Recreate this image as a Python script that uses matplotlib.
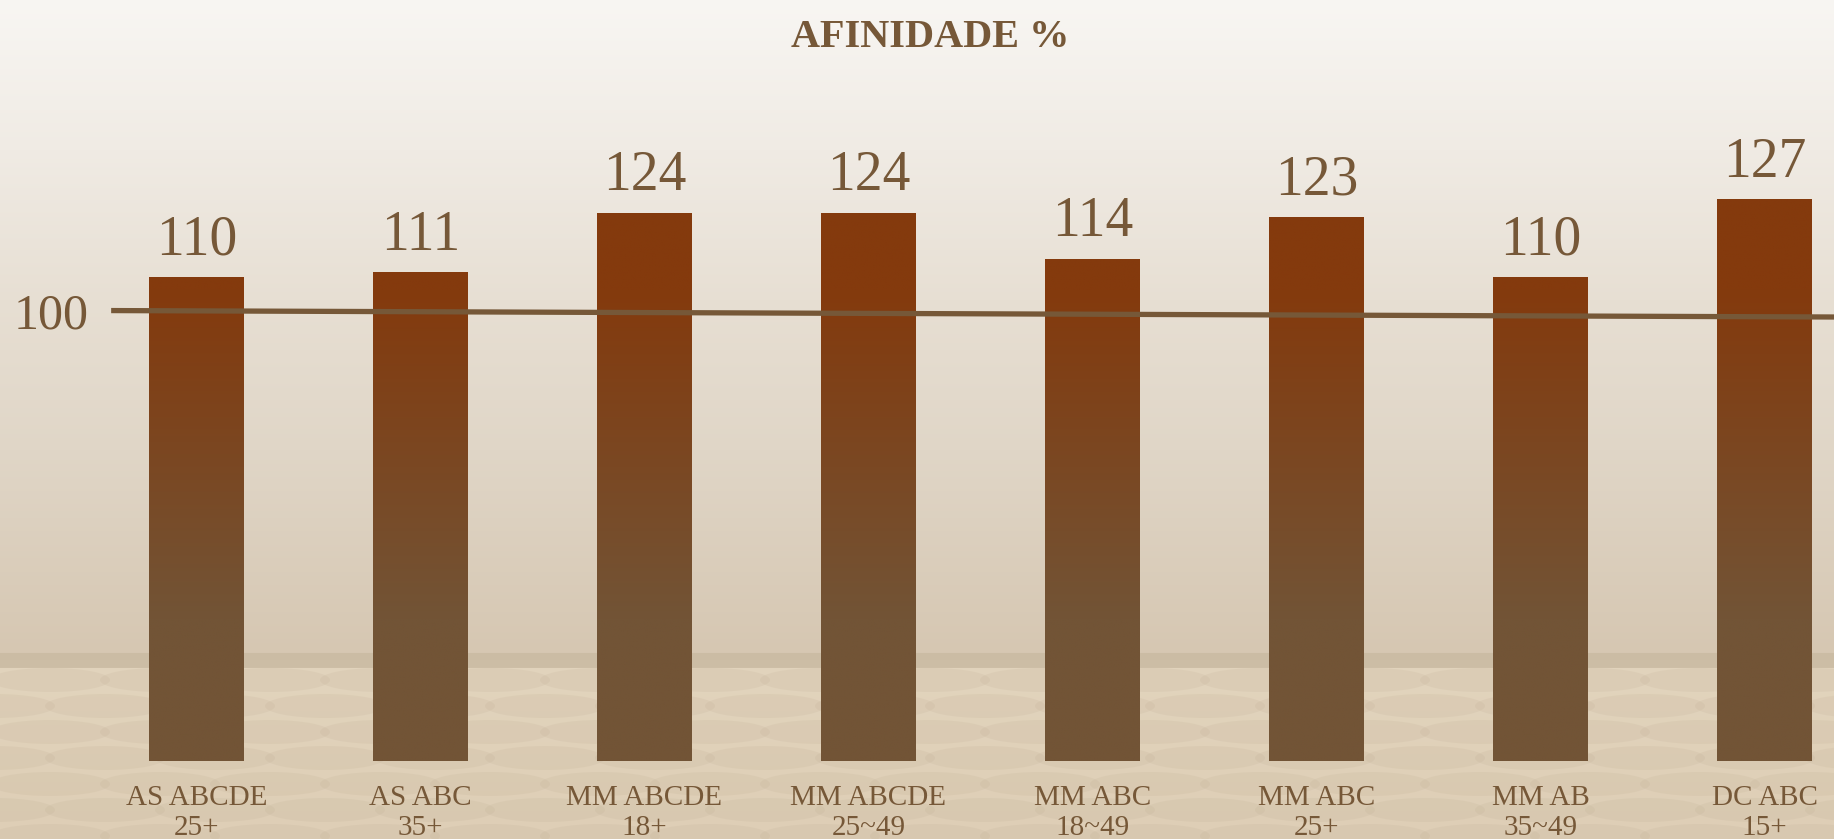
import numpy as np
import matplotlib.pyplot as plt
from matplotlib.patches import Ellipse


# Chart data
categories = ["AS ABCDE\n25+", "AS ABC\n35+", "MM ABCDE\n18+", "MM ABCDE\n25~49",
              "MM ABC\n18~49", "MM ABC\n25+", "MM AB\n35~49", "DC ABC\n15+"]
afinidade = [110, 111, 124, 124, 114, 123, 110, 127]
# reference line (drawn slightly tilted in the original)
ref_label = "100"
ref_values = [102.7, 101.3]

title = "AFINIDADE %"

# colours
text_color = "#765838"
line_color = "#765838"
bar_top = np.array([132, 58, 13]) / 255
bar_bottom = np.array([114, 84, 54]) / 255

plt.rcParams['font.family'] = ['Liberation Serif', 'DejaVu Serif']

W, H = 1834, 839
fig = plt.figure(figsize=(W / 100, H / 100), dpi=100)

# Background: vertical gradient wall + patterned floor
bg = fig.add_axes([0, 0, 1, 1], zorder=-5)
bg.set_xlim(0, W)
bg.set_ylim(H, 0)
bg.axis("off")
rows = np.arange(H)
stops_y = [0, 150, 300, 450, 652, 653, 667, 668, H]
stops_c = np.array([[248, 246, 243], [240, 235, 228], [231, 223, 211], [224, 214, 199],
                    [214, 199, 178], [203, 188, 164], [205, 190, 166], [226, 212, 189],
                    [222, 206, 182]]) / 255
grad = np.stack([np.interp(rows, stops_y, stops_c[:, k]) for k in range(3)], axis=-1)
bg.imshow(grad[:, None, :], extent=(0, W, H, 0), aspect="auto", interpolation="bilinear")
for r, yy in enumerate(range(680, H + 30, 26)):
    shift = 0 if r % 2 == 0 else 55
    for xx in range(-60 + shift, W + 120, 110):
        bg.add_patch(Ellipse((xx, yy), 120, 24, facecolor=(0.72, 0.65, 0.55),
                             edgecolor="none", alpha=0.14))

# Main axes
ax = fig.add_axes([0, 78 / H, 1, 761 / H])
ax.patch.set_alpha(0)
x = np.arange(len(categories))
ax.set_xlim(-196.5 / 224, (W - 196.5) / 224)
ax.set_ylim(4.8, 170.2)

bars = ax.bar(x, afinidade, width=0.42, color="none", edgecolor="none", zorder=2)

# gradient fill for the bars (rust at top, brown at bottom)
vals = np.linspace(4.8, 170.2, 400)
t = np.clip((vals - 35.5) / (107 - 35.5), 0, 1)
bar_grad = (bar_bottom[None, :] * (1 - t[:, None]) + bar_top[None, :] * t[:, None])
for b in bars:
    im = ax.imshow(bar_grad[:, None, :], extent=(b.get_x(), b.get_x() + b.get_width(), 4.8, 170.2),
                   origin="lower", aspect="auto", zorder=2, interpolation="bilinear")
    im.set_clip_path(b)

# value labels
for xi, v in zip(x, afinidade):
    ax.annotate(str(v), (xi, v), xytext=(0, 16), textcoords="offset points",
                ha="center", va="baseline", fontsize=40, color=text_color)

# reference line at 100
line_x = [-0.381, ax.get_xlim()[1]]
ax.plot(line_x, ref_values, color=line_color, linewidth=3.8, zorder=3, solid_capstyle="butt")
ax.annotate(ref_label, (line_x[0], ref_values[0]), xytext=(-16, 0), textcoords="offset points",
            ha="right", va="center_baseline", fontsize=36, color=text_color)

ax.set_xticks(x)
ax.set_xticklabels(categories, fontsize=21, color=text_color, linespacing=1.2)
ax.tick_params(axis="x", length=0, pad=17)
ax.set_yticks([])
for s in ax.spines.values():
    s.set_visible(False)

fig.text(930 / W, 1 - 47 / H, title, ha="center", va="baseline",
         fontsize=29, fontweight="bold", color=text_color)

fig.savefig("out.png", dpi=100)
